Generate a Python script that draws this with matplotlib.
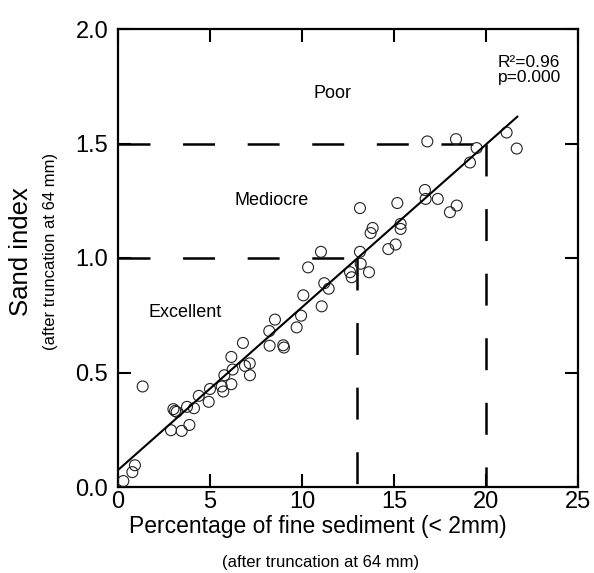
import numpy as np
import matplotlib
matplotlib.use("Agg")
import matplotlib.pyplot as plt

plt.rcParams['font.family'] = ['Liberation Sans', 'DejaVu Sans']
plt.rcParams['lines.scale_dashes'] = False

# fine sediment (%) vs sand index
fines = [0.29, 0.78, 0.92, 1.34, 2.88, 3.01, 3.10, 3.19, 3.46, 3.88,
         3.75, 4.13, 4.39, 4.93, 5.00, 5.64, 5.72, 5.78, 6.16, 6.23,
         6.16, 6.90, 7.16, 7.17, 6.79, 8.24, 8.22, 8.53, 8.98, 9.02,
         9.71, 9.95, 10.07, 11.07, 11.21, 11.45, 10.33, 11.03, 12.61, 12.70,
         13.15, 13.19, 13.64, 13.15, 13.73, 13.84, 14.69, 15.09, 15.18, 15.36,
         15.36, 16.68, 16.72, 17.38, 18.04, 18.41, 16.81, 18.37, 19.49, 19.13,
         21.12, 21.67]
sand_index = [0.026, 0.065, 0.095, 0.439, 0.248, 0.340, 0.332, 0.328, 0.245, 0.271,
              0.350, 0.344, 0.398, 0.372, 0.428, 0.439, 0.417, 0.488, 0.449, 0.513,
              0.568, 0.529, 0.540, 0.488, 0.629, 0.617, 0.681, 0.731, 0.619, 0.609,
              0.697, 0.748, 0.837, 0.789, 0.890, 0.866, 0.959, 1.027, 0.938, 0.916,
              1.027, 0.975, 0.938, 1.218, 1.109, 1.131, 1.039, 1.059, 1.240, 1.149,
              1.127, 1.297, 1.258, 1.258, 1.200, 1.229, 1.509, 1.519, 1.480, 1.417,
              1.548, 1.478]

# regression line
fit_intercept = 0.074
fit_slope = 0.0711
fit_xmax = 21.7

# class thresholds
thresholds = [1.0, 1.5]
limits_x = [13, 20]
classes = ["Excellent", "Mediocre", "Poor"]

fig = plt.figure(figsize=(5.94, 5.73), dpi=100)
ax = fig.add_axes([118/594, 1 - 487/573, 460/594, 458/573])

ax.scatter(fines, sand_index, s=62, facecolors='none', edgecolors='#222222',
           linewidths=0.8, zorder=3)

xf = np.array([0, fit_xmax])
ax.plot(xf, fit_intercept + fit_slope * xf, color='black', lw=1.5, zorder=4)

dash = (0, (23, 23.5))
for yt, xl in zip(thresholds, limits_x):
    ax.plot([0, xl], [yt, yt], color='black', lw=1.8, linestyle=dash)
    ax.plot([xl, xl], [yt, 0], color='black', lw=1.8, linestyle=dash)

ax.text(3.67, 0.763, classes[0], fontsize=13, ha='center', va='center')
ax.text(8.34, 1.25, classes[1], fontsize=13, ha='center', va='center')
ax.text(11.66, 1.72, classes[2], fontsize=13, ha='center', va='center')
ax.text(20.65, 1.885, "R²=0.96\np=0.000", fontsize=12.5, ha='left', va='top',
        linespacing=0.95)

ax.set_xlim(0, 25)
ax.set_ylim(0, 2.0)
ax.set_xticks(np.arange(0, 26, 5))
ax.set_yticks(np.arange(0, 2.01, 0.5))
ax.set_yticklabels([f"{v:.1f}" for v in np.arange(0, 2.01, 0.5)])
ax.tick_params(direction='in', length=9.5, width=1.5, labelsize=17,
               top=True, right=True, color='black')
ax.tick_params(axis='y', pad=7)
ax.tick_params(axis='x', pad=3)
for sp in ax.spines.values():
    sp.set_linewidth(1.6)

fig.text(318/594, 1 - 527/573, "Percentage of fine sediment (< 2mm)",
         fontsize=16.5, ha='center', va='center')
fig.text(321/594, 1 - 562/573, "(after truncation at 64 mm)",
         fontsize=12, ha='center', va='center')
fig.text(21/594, 1 - 252/573, "Sand index", fontsize=18.5, rotation=90,
         ha='center', va='center')
fig.text(51/594, 1 - 251/573, "(after truncation at 64 mm)", fontsize=12,
         rotation=90, ha='center', va='center')

fig.savefig("out.png", dpi=100)
